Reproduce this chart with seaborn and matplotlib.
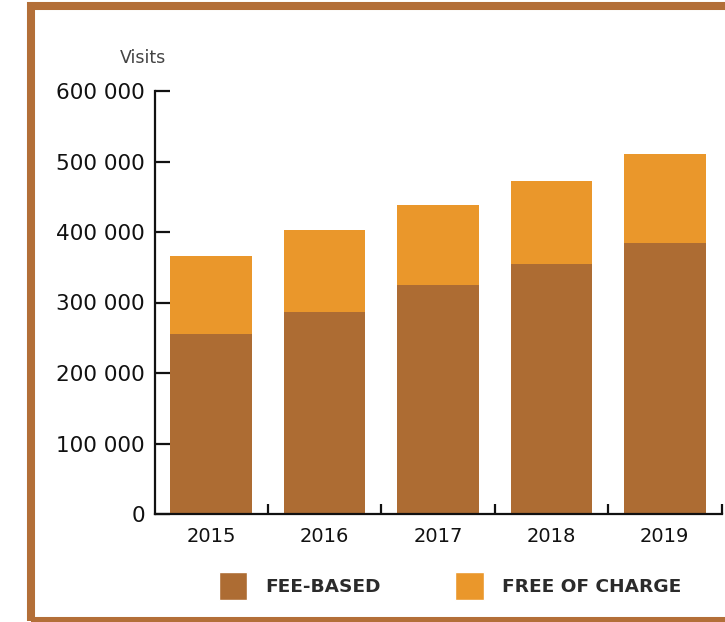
import matplotlib
matplotlib.use("Agg")
import matplotlib.pyplot as plt
from matplotlib.patches import Patch, Rectangle
from matplotlib.ticker import FuncFormatter, FixedLocator
import seaborn as sns
import pandas as pd

# Annual visits, split by ticket type
years = ["2015", "2016", "2017", "2018", "2019"]
fee_based = [255000, 286500, 325000, 355000, 384000]
free_of_charge = [111000, 116500, 113000, 117000, 127000]
y_ticks = [0, 100000, 200000, 300000, 400000, 500000, 600000]

FEE_COLOR = "#AD6C33"
FREE_COLOR = "#EA972B"
FRAME_COLOR = "#B36F38"

df = pd.DataFrame({"year": years, "fee": fee_based, "free": free_of_charge})
df["total"] = df["fee"] + df["free"]

sns.set_style("white")
plt.rcParams["font.family"] = ["DejaVu Sans"]

W, H = 725, 622
fig = plt.figure(figsize=(W / 100, H / 100), dpi=100)
ax = fig.add_axes([154.5 / W, (H - 514) / H, 567 / W, 423 / H])

# Stacked bars: total in orange, fee-based share drawn over it
sns.barplot(data=df, x="year", y="total", color=FREE_COLOR, width=0.72,
            saturation=1, linewidth=0, ax=ax, zorder=2)
sns.barplot(data=df, x="year", y="fee", color=FEE_COLOR, width=0.72,
            saturation=1, linewidth=0, ax=ax, zorder=3)

ax.set_xlim(-0.5, 4.5)
ax.set_ylim(0, 600000)
ax.set_xlabel("")
ax.set_ylabel("")

for side in ("top", "right"):
    ax.spines[side].set_visible(False)
for side in ("left", "bottom"):
    ax.spines[side].set_color("#111111")
    ax.spines[side].set_linewidth(1.6)
    ax.spines[side].set_zorder(5)

ax.yaxis.set_major_locator(FixedLocator(y_ticks))
ax.yaxis.set_major_formatter(FuncFormatter(lambda v, p: f"{int(v):,}".replace(",", " ")))
ax.tick_params(axis="y", direction="in", length=10.5, width=1.6, color="#111111",
               pad=7, labelsize=15.5, labelcolor="#111111", left=True)
ax.tick_params(axis="x", which="major", length=0, pad=9, labelsize=14,
               labelcolor="#111111")
ax.xaxis.set_minor_locator(FixedLocator([0.5, 1.5, 2.5, 3.5, 4.5]))
ax.tick_params(axis="x", which="minor", direction="in", length=7, width=1.6,
               color="#111111", bottom=True)
for t in ax.yaxis.get_major_ticks():
    t.tick1line.set_clip_on(False)

fig.text(143 / W, 1 - 58 / H, "Visits", ha="center", va="center",
         fontsize=12.5, color="#444444")

handles = [Patch(facecolor=FEE_COLOR, label="FEE-BASED"),
           Patch(facecolor=FREE_COLOR, label="FREE OF CHARGE")]
leg = fig.legend(handles=handles, loc="center", bbox_to_anchor=(450 / W, 1 - 586 / H),
                 ncol=2, frameon=False, handlelength=1.55, handleheight=2.0,
                 handletextpad=1.0, columnspacing=4.0,
                 prop={"size": 13.3, "weight": "bold"})
for txt in leg.get_texts():
    txt.set_color("#2b2b2b")

# Page frame around the chart
fig.patches.append(Rectangle((31 / W, 1 - 621 / H), (760 - 31) / W, (621 - 6) / H,
                             transform=fig.transFigure, fill=False,
                             edgecolor=FRAME_COLOR, linewidth=5.8, zorder=10))

fig.savefig("out.png", dpi=100, facecolor="white")
